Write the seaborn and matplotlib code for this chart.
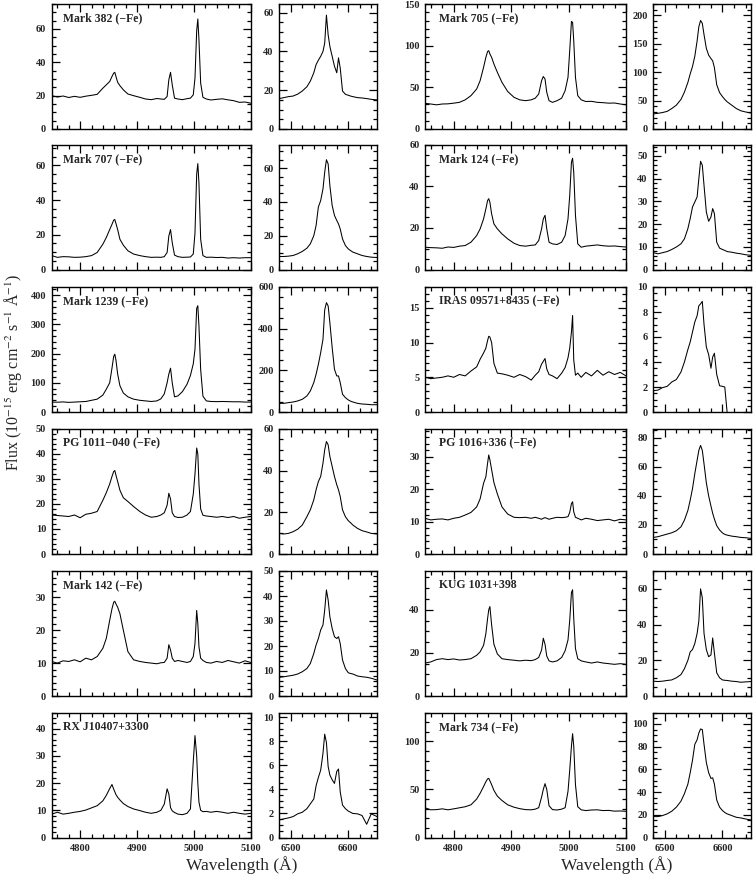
import numpy as np
import pandas as pd
import matplotlib
matplotlib.use("Agg")
import matplotlib.pyplot as plt
import seaborn as sns
from matplotlib.ticker import MultipleLocator, AutoMinorLocator

# ---------------- data ----------------
HB_WAVE = [4750, 4760, 4770, 4780, 4790, 4800, 4810, 4820, 4830, 4840,
           4846, 4852, 4856, 4859, 4861, 4863, 4866, 4870, 4876, 4884,
           4894, 4905, 4915, 4925, 4935, 4942, 4948, 4953, 4956, 4959,
           4962, 4966, 4972, 4980, 4988, 4994, 4999, 5002, 5005, 5007,
           5009, 5012, 5016, 5022, 5030, 5040, 5050, 5060, 5070, 5080,
           5090, 5100]
HA_WAVE = [6480, 6488, 6496, 6504, 6512, 6520, 6528, 6534, 6540, 6544,
           6548, 6552, 6556, 6559, 6562, 6565, 6568, 6572, 6576, 6580,
           6583, 6586, 6590, 6595, 6600, 6604, 6608, 6616, 6624, 6632,
           6640, 6650]

NAN = float("nan")

MRK382_HB = [20.0, 19.2, 19.8, 18.9, 19.6, 19.0, 19.7, 20.2, 20.8, 24.5,
             26.5, 28.5, 31.5, 33.5, 34.0, 31.5, 28.0, 26.0, 23.5, 21.0,
             20.0, 19.0, 18.0, 17.6, 18.3, 18.0, 17.8, 19.5, 29.5, 34.0,
             26.5, 18.5, 18.0, 17.6, 18.2, 18.5, 20.5, 30.5, 59.0, 66.0,
             53.5, 27.5, 19.0, 18.0, 17.4, 17.8, 18.1, 17.5, 17.0, 16.0,
             16.2, 15.5]
MRK382_HA = [15.7, 16.2, 16.7, 17.0, 18.0, 19.6, 21.8, 24.7, 29.0, 33.2,
             35.5, 37.5, 40.0, 44.3, 58.8, 48.6, 42.6, 37.5, 32.4, 29.0,
             36.7, 31.5, 19.6, 17.9, 17.4, 17.0, 16.7, 16.2, 16.0, 15.7,
             15.3, 15.0]

MRK705_HB = [30.8, 30.0, 29.0, 30.0, 30.2, 31.0, 32.0, 35.0, 40.0, 48.0,
             58.0, 74.0, 86.0, 93.0, 94.0, 90.0, 86.0, 78.0, 68.0, 56.0,
             45.0, 38.0, 35.0, 34.0, 35.0, 37.0, 42.0, 58.0, 63.0, 60.0,
             44.0, 34.0, 32.0, 34.0, 37.0, 46.0, 62.0, 94.0, 129.0, 128.0,
             106.0, 62.0, 40.0, 35.0, 33.0, 33.2, 32.0, 31.6, 31.0, 31.2,
             30.0, 29.0]
MRK705_HA = [26.5, 27.6, 29.0, 31.0, 36.0, 42.0, 52.0, 65.0, 82.0, 97.0,
             110.0, 128.0, 155.0, 180.0, 191.0, 186.0, 166.0, 142.0, 130.0, 124.0,
             120.0, 108.0, 78.0, 64.0, 57.0, 52.0, 48.0, 42.0, 36.0, 32.0,
             30.0, 28.0]

MRK707_HB = [8.0, 7.0, 7.4, 7.3, 7.0, 7.1, 7.4, 8.0, 9.8, 14.6,
             18.4, 23.0, 26.0, 28.4, 28.8, 26.5, 23.0, 17.4, 14.0, 10.8,
             8.9, 8.0, 7.4, 7.0, 7.1, 7.0, 7.4, 9.8, 19.3, 23.0,
             15.5, 8.3, 7.4, 7.0, 7.1, 7.2, 8.9, 21.0, 55.0, 61.0,
             49.6, 17.4, 8.0, 7.0, 7.1, 6.9, 7.0, 6.6, 6.8, 6.6,
             6.8, 6.8]
MRK707_HA = [7.7, 7.7, 7.9, 8.3, 9.3, 10.7, 12.6, 15.2, 20.0, 26.0,
             37.0, 40.8, 47.7, 57.6, 65.0, 62.5, 49.7, 37.9, 32.0, 29.0,
             27.0, 24.0, 18.1, 14.2, 12.2, 11.2, 10.3, 9.3, 8.3, 7.7,
             7.3, 7.1]

MRK124_HB = [10.7, 10.5, 10.4, 10.2, 10.8, 10.6, 11.2, 11.5, 13.1, 16.3,
             19.5, 24.3, 29.1, 33.1, 34.0, 32.3, 26.7, 21.9, 19.5, 17.1,
             14.7, 12.6, 11.5, 11.2, 11.6, 11.8, 13.9, 19.5, 24.3, 26.0,
             19.5, 13.1, 12.3, 12.0, 13.1, 16.3, 24.3, 35.5, 51.5, 53.4,
             46.7, 26.0, 12.3, 10.7, 11.2, 11.5, 11.8, 11.4, 11.2, 11.3,
             11.0, 10.8]
MRK124_HA = [7.4, 6.9, 7.4, 7.9, 8.8, 9.9, 11.3, 13.5, 18.0, 22.4,
             27.5, 29.7, 31.9, 40.0, 47.6, 45.9, 37.0, 25.3, 21.2, 23.1,
             26.8, 24.6, 12.0, 9.4, 8.8, 8.4, 7.9, 7.6, 7.2, 6.9,
             6.5, 6.2]

MRK1239_HB = [34.0, 33.5, 34.5, 33.0, 34.0, 35.0, 36.0, 40.0, 44.0, 58.0,
              78.0, 100.0, 150.0, 190.0, 198.0, 178.0, 130.0, 90.0, 65.0, 52.0,
              44.0, 40.0, 38.0, 36.0, 38.0, 45.0, 62.0, 100.0, 130.0, 150.0,
              100.0, 52.0, 55.0, 70.0, 95.0, 125.0, 165.0, 215.0, 355.0, 364.0,
              293.0, 145.0, 54.0, 38.0, 36.0, 35.5, 36.0, 35.5, 35.0, 35.0,
              34.0, 34.0]
MRK1239_HA = [41.6, 41.6, 45.0, 48.0, 53.0, 61.0, 77.0, 101.0, 141.0, 181.0,
              229.0, 285.0, 349.0, 490.0, 525.0, 509.0, 429.0, 309.0, 205.0, 173.0,
              173.0, 141.0, 85.0, 69.0, 58.0, 52.0, 48.0, 41.6, 38.4, 37.0,
              35.0, 35.0]

IRAS_HB = [5.0, 4.8, 4.9, 5.0, 5.2, 5.0, 5.4, 5.2, 5.9, 6.5,
           7.6, 8.5, 9.2, 10.3, 10.9, 10.8, 10.0, 7.0, 5.6, 5.5,
           5.3, 5.0, 5.4, 5.1, 4.6, 5.3, 5.8, 6.9, 7.3, 7.7,
           6.2, 5.4, 5.2, 4.8, 5.6, 6.4, 7.8, 9.2, 11.5, 13.9,
           7.5, 5.3, 5.6, 5.0, 5.7, 5.2, 6.0, 5.3, 5.8, 5.4,
           5.7, 5.2]
IRAS_HA = [1.7, 1.75, 1.95, 2.05, 2.4, 2.6, 3.2, 4.0, 5.0, 5.6,
           6.4, 7.2, 7.7, 8.5, 8.65, 8.85, 7.0, 5.2, 4.6, 3.5,
           4.4, 4.7, 3.0, 2.1, 2.05, 2.0, 0.0, NAN, NAN, NAN,
           NAN, NAN]

PG1011_HB = [15.6, 15.4, 15.2, 15.0, 15.6, 14.5, 15.9, 16.3, 17.0, 21.5,
             24.5, 28.0, 31.0, 33.0, 33.4, 31.5, 29.0, 25.5, 22.5, 21.0,
             19.0, 17.0, 15.6, 14.7, 15.0, 15.6, 16.5, 19.5, 24.3, 22.0,
             16.5, 15.0, 14.6, 14.7, 15.6, 17.0, 24.0, 32.0, 42.4, 40.0,
             28.0, 18.0, 15.5, 15.2, 15.0, 14.7, 15.0, 14.6, 15.0, 14.3,
             14.7, 15.0]
PG1011_HA = [9.9, 9.6, 9.9, 10.7, 11.9, 13.9, 17.9, 21.2, 26.0, 30.8,
             34.8, 37.2, 43.6, 50.0, 54.0, 52.4, 46.8, 42.0, 37.2, 33.2,
             30.8, 27.6, 21.2, 17.9, 16.0, 15.0, 13.9, 12.3, 11.2, 10.6,
             9.9, 9.6]

PG1016_HB = [11.0, 10.5, 10.7, 10.8, 10.5, 11.0, 11.3, 12.0, 12.8, 14.5,
             17.0, 21.8, 23.8, 28.0, 30.5, 29.0, 26.0, 22.0, 18.5, 14.5,
             12.3, 11.3, 11.2, 11.3, 11.0, 11.3, 11.0, 10.7, 11.0, 11.2,
             11.0, 10.7, 11.0, 11.3, 11.2, 11.3, 11.5, 12.8, 15.5, 16.1,
             13.0, 11.3, 11.0, 10.5, 11.0, 10.7, 10.3, 10.5, 10.7, 10.2,
             10.7, 10.5]
PG1016_HA = [11.4, 11.9, 12.8, 13.7, 14.6, 16.0, 18.7, 23.3, 30.0, 37.0,
             45.0, 55.3, 64.5, 71.3, 74.7, 71.3, 62.0, 49.0, 40.0, 33.0,
             28.0, 24.0, 19.5, 16.5, 14.5, 13.5, 13.0, 12.3, 11.9, 11.4,
             11.2, 10.7]

MRK142_HB = [10.5, 10.0, 10.7, 10.5, 11.0, 10.4, 11.5, 11.0, 12.0, 14.5,
             17.5, 23.0, 26.5, 28.5, 28.8, 28.0, 27.0, 25.0, 20.0, 13.5,
             11.0, 10.5, 10.2, 10.0, 9.8, 10.1, 10.2, 11.5, 15.6, 14.0,
             11.5, 10.5, 10.8, 10.5, 10.2, 10.5, 12.0, 16.0, 26.0, 22.0,
             15.0, 11.5, 10.8, 10.2, 10.0, 10.5, 10.2, 10.8, 10.4, 10.0,
             10.7, 10.2]
MRK142_HA = [7.5, 7.7, 8.0, 8.3, 8.8, 9.7, 11.0, 13.0, 17.0, 20.4,
             23.0, 26.4, 28.4, 34.4, 42.4, 38.4, 31.7, 27.0, 23.7, 23.0,
             23.7, 21.0, 14.4, 11.0, 9.3, 9.0, 8.8, 8.0, 7.7, 7.5,
             7.1, 6.4]

KUG_HB = [15.3, 15.8, 16.9, 17.3, 16.9, 17.2, 16.7, 16.9, 17.3, 18.9,
          20.5, 23.5, 29.0, 36.0, 40.0, 41.5, 33.0, 24.0, 19.5, 17.3,
          16.9, 16.6, 16.3, 16.6, 16.4, 16.9, 17.9, 21.3, 26.8, 24.0,
          18.5, 16.3, 15.8, 16.3, 17.9, 21.0, 26.0, 35.0, 48.0, 49.3,
          36.0, 22.0, 17.3, 16.3, 15.8, 15.3, 15.8, 15.3, 15.0, 14.7,
          15.0, 14.7]
KUG_HA = [8.3, 8.1, 8.3, 8.7, 9.0, 10.2, 12.0, 15.3, 20.0, 24.7,
          26.0, 29.4, 35.0, 42.0, 60.0, 55.0, 35.0, 26.0, 22.0, 23.0,
          32.5, 24.0, 13.0, 10.2, 9.0, 8.8, 8.7, 8.3, 8.1, 7.7,
          7.9, 8.1]

RXJ_HB = [8.6, 9.3, 8.6, 8.9, 9.3, 9.6, 10.1, 10.9, 11.7, 13.5,
          15.5, 18.0, 19.5, 17.8, 16.8, 15.8, 14.8, 13.8, 12.5, 11.4,
          10.5, 9.9, 9.3, 8.9, 9.3, 10.0, 12.3, 17.9, 16.0, 11.0,
          9.8, 9.2, 8.6, 8.4, 8.9, 10.5, 28.0, 37.5, 30.0, 20.0,
          13.0, 10.0, 9.5, 9.6, 9.3, 9.6, 9.3, 8.9, 9.3, 8.9,
          8.6, 8.9]
RXJ_HA = [1.46, 1.55, 1.63, 1.74, 1.97, 2.1, 2.4, 2.8, 3.2, 4.3,
          5.0, 5.6, 7.0, 8.6, 7.9, 5.9, 5.2, 4.8, 4.5, 5.5,
          5.7, 3.8, 2.7, 2.4, 2.2, 2.1, 2.0, 1.97, 1.83, 1.1,
          1.97, 1.74]

MRK734_HB = [30.9, 28.8, 29.0, 29.8, 28.8, 29.8, 30.9, 32.0, 34.0, 40.0,
             46.0, 53.0, 58.0, 61.0, 61.5, 59.0, 55.0, 49.0, 43.0, 38.5,
             34.0, 31.5, 30.0, 29.0, 28.8, 29.5, 31.0, 42.0, 50.0, 56.0,
             50.0, 33.0, 29.0, 28.6, 29.5, 31.0, 48.0, 70.0, 95.0, 108.0,
             95.0, 55.0, 32.0, 28.8, 28.0, 28.6, 28.8, 28.0, 28.2, 27.4,
             27.6, 27.2]
MRK734_HA = [18.4, 18.4, 19.3, 20.8, 23.1, 26.7, 32.0, 38.6, 47.0, 57.0,
             68.0, 82.0, 86.0, 92.0, 95.5, 95.0, 82.0, 66.0, 57.0, 52.0,
             52.5, 47.0, 33.0, 26.7, 23.7, 22.0, 20.8, 19.3, 17.8, 17.2,
             16.3, 15.4]

# panel labels, column by column (left group top->bottom, then right group)
LEFT_NAMES = ["Mark 382 (\u2212Fe)", "Mark 707 (\u2212Fe)", "Mark 1239 (\u2212Fe)",
              "PG 1011\u2212040 (\u2212Fe)", "Mark 142 (\u2212Fe)", "RX J10407+3300"]
RIGHT_NAMES = ["Mark 705 (\u2212Fe)", "Mark 124 (\u2212Fe)", "IRAS 09571+8435 (\u2212Fe)",
               "PG 1016+336 (\u2212Fe)", "KUG 1031+398", "Mark 734 (\u2212Fe)"]
LEFT_HB = [MRK382_HB, MRK707_HB, MRK1239_HB, PG1011_HB, MRK142_HB, RXJ_HB]
LEFT_HA = [MRK382_HA, MRK707_HA, MRK1239_HA, PG1011_HA, MRK142_HA, RXJ_HA]
RIGHT_HB = [MRK705_HB, MRK124_HB, IRAS_HB, PG1016_HB, KUG_HB, MRK734_HB]
RIGHT_HA = [MRK705_HA, MRK124_HA, IRAS_HA, PG1016_HA, KUG_HA, MRK734_HA]

# axis ranges / tick steps
LEFT_HB_YMAX = [75, 72, 428, 50, 38, 46]
LEFT_HB_YSTEP = [20, 20, 100, 10, 10, 10]
LEFT_HA_YMAX = [64.5, 74, 600, 60, 50, 10.4]
LEFT_HA_YSTEP = [20, 20, 200, 20, 10, 2]
RIGHT_HB_YMAX = [150, 60, 18, 38.5, 58, 130]
RIGHT_HB_YSTEP = [50, 20, 5, 10, 20, 50]
RIGHT_HA_YMAX = [220, 55, 10, 86, 70, 110]
RIGHT_HA_YSTEP = [50, 10, 2, 20, 20, 20]

HB_XLIM = (4750, 5100)
HA_XLIM = (6480, 6650)

# ---------------- style ----------------
sns.set_theme(style="ticks")
plt.rcParams["font.family"] = ["Liberation Serif", "DejaVu Serif"]
plt.rcParams["mathtext.fontset"] = "stix"
plt.rcParams["axes.linewidth"] = 1.0

W, H = 754, 874
fig = plt.figure(figsize=(W / 100, H / 100), dpi=100)

ROW_TOPS = [4, 144.5, 287, 429, 571, 712.5]
ROW_H = 125
GROUPS = [
    dict(wide=(51.7, 199.0), narrow=(279.3, 97.7),
         names=LEFT_NAMES, hb=LEFT_HB, ha=LEFT_HA,
         hb_ymax=LEFT_HB_YMAX, hb_ystep=LEFT_HB_YSTEP,
         ha_ymax=LEFT_HA_YMAX, ha_ystep=LEFT_HA_YSTEP, title_dx=0.058),
    dict(wide=(425.0, 201.0), narrow=(653.3, 98.0),
         names=RIGHT_NAMES, hb=RIGHT_HB, ha=RIGHT_HA,
         hb_ymax=RIGHT_HB_YMAX, hb_ystep=RIGHT_HB_YSTEP,
         ha_ymax=RIGHT_HA_YMAX, ha_ystep=RIGHT_HA_YSTEP, title_dx=0.072),
]


def n_minor(step):
    s = step
    while s >= 10:
        s /= 10
    while s < 1:
        s *= 10
    return 4 if round(s) == 2 else 5


def style_axis(ax, xlim, ymax, ystep, bottom_labels):
    ax.set_xlim(*xlim)
    ax.set_ylim(0, ymax)
    ax.xaxis.set_major_locator(MultipleLocator(100))
    ax.xaxis.set_minor_locator(MultipleLocator(20))
    ax.yaxis.set_major_locator(MultipleLocator(ystep))
    ax.yaxis.set_minor_locator(AutoMinorLocator(n_minor(ystep)))
    ax.tick_params(which="both", direction="in", top=True, right=True,
                   color="black", width=0.9)
    ax.tick_params(which="major", length=5.5)
    ax.tick_params(which="minor", length=2.8)
    ax.tick_params(axis="y", labelsize=7.5, pad=4)
    ax.tick_params(axis="x", labelsize=7.5, pad=5, labelbottom=bottom_labels)
    for lab in ax.get_xticklabels() + ax.get_yticklabels():
        lab.set_fontweight("bold")
    for sp in ax.spines.values():
        sp.set_color("black")
        sp.set_linewidth(1.0)
    ax.set_xlabel("")
    ax.set_ylabel("")


for g in GROUPS:
    for r in range(6):
        top = ROW_TOPS[r]
        bottom = 1 - (top + ROW_H) / H
        hgt = ROW_H / H
        last = (r == 5)

        # H-beta / [OIII] panel
        x0, w = g["wide"]
        ax = fig.add_axes([x0 / W, bottom, w / W, hgt])
        df = pd.DataFrame({"wavelength": HB_WAVE, "flux": g["hb"][r]})
        sns.lineplot(data=df, x="wavelength", y="flux", ax=ax, color="black",
                     linewidth=0.75, estimator=None, sort=False)
        style_axis(ax, HB_XLIM, g["hb_ymax"][r], g["hb_ystep"][r], last)
        ax.text(g["title_dx"], 0.885, g["names"][r], transform=ax.transAxes,
                ha="left", va="center", fontsize=8.5, fontweight="bold")

        # H-alpha panel
        x0, w = g["narrow"]
        ax2 = fig.add_axes([x0 / W, bottom, w / W, hgt])
        df2 = pd.DataFrame({"wavelength": HA_WAVE, "flux": g["ha"][r]}).dropna()
        sns.lineplot(data=df2, x="wavelength", y="flux", ax=ax2, color="black",
                     linewidth=0.75, estimator=None, sort=False)
        style_axis(ax2, HA_XLIM, g["ha_ymax"][r], g["ha_ystep"][r], last)

fig.text(13 / W, 1 - 372 / H,
         "Flux (10$^{-15}$ erg cm$^{-2}$ s$^{-1}$ \u00c5$^{-1}$)",
         rotation=90, ha="center", va="center", fontsize=11.5)
fig.text(242 / W, 1 - 865 / H, "Wavelength (\u00c5)", ha="center", va="center",
         fontsize=12.5)
fig.text(617 / W, 1 - 865 / H, "Wavelength (\u00c5)", ha="center", va="center",
         fontsize=12.5)

fig.savefig("out.png", dpi=100)
